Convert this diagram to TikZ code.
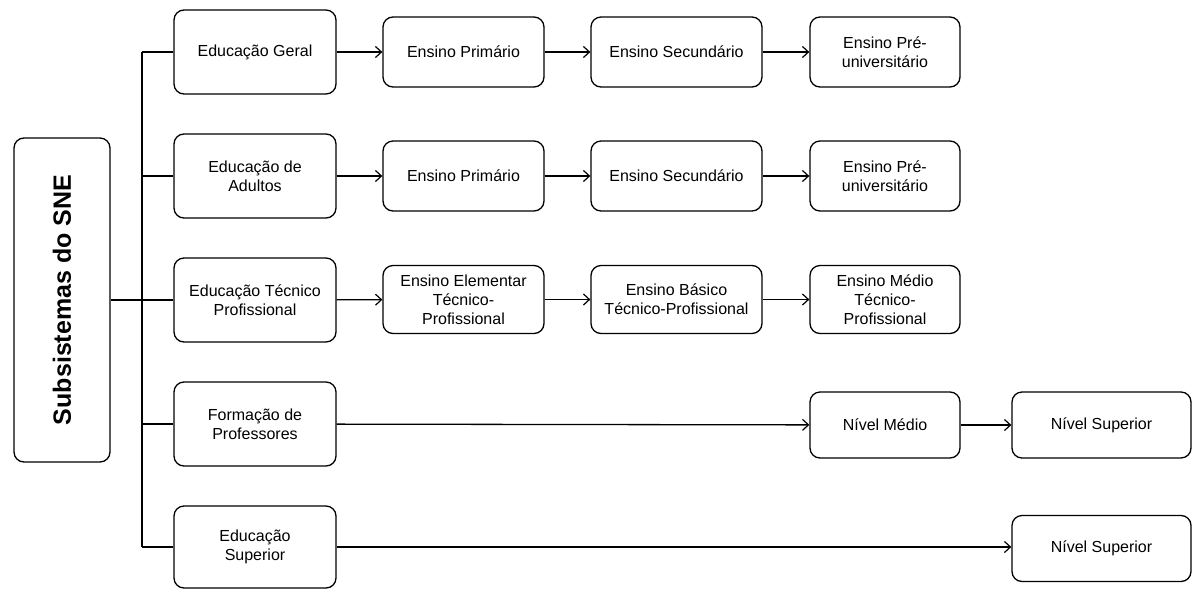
\documentclass[tikz,border=0pt]{standalone}
\usepackage{fontspec}
\setmainfont{Liberation Sans}
\usetikzlibrary{arrows.meta}
\begin{document}
\begin{tikzpicture}[x=1pt,y=-1pt,
  box/.style={draw, line width=1.3pt, rounded corners=10pt, align=center, inner sep=0pt,
    font=\fontsize{16}{19}\selectfont},
  conn/.style={line width=1.3pt},
  arr/.style={conn, -{Straight Barb[length=6pt,width=11pt,line width=1.2pt]}}]
\useasboundingbox (0,0) rectangle (1192,590);
% root
\node[box, minimum width=96pt, minimum height=324pt] (root) at (62,300)
  {\rotatebox{90}{\fontsize{25}{28}\selectfont\bfseries Subsistemas do SNE}};
% level 1
\node[box, minimum width=162pt, minimum height=84pt] (a1) at (255,52) {Educação Geral};
\node[box, minimum width=162pt, minimum height=84pt] (a2) at (255,176) {Educação de\\Adultos};
\node[box, minimum width=162pt, minimum height=84pt] (a3) at (255,300) {Educação Técnico\\Profissional};
\node[box, minimum width=162pt, minimum height=84pt] (a4) at (255,424) {Formação de\\Professores};
\node[box, minimum width=162pt, minimum height=82pt] (a5) at (255,547) {Educação\\Superior};
% level 2
\node[box, minimum width=161pt, minimum height=70pt] (b1) at (463.5,52) {Ensino Primário};
\node[box, minimum width=161pt, minimum height=70pt] (b2) at (463.5,176) {Ensino Primário};
\node[box, minimum width=161pt, minimum height=68pt] (b3) at (463.5,299.5) {Ensino Elementar\\Técnico-\\Profissional};
% level 3
\node[box, minimum width=171pt, minimum height=70pt] (c1) at (676.5,52) {Ensino Secundário};
\node[box, minimum width=171pt, minimum height=70pt] (c2) at (676.5,176) {Ensino Secundário};
\node[box, minimum width=171pt, minimum height=68pt] (c3) at (676.5,299.5) {Ensino Básico\\Técnico-Profissional};
% level 4
\node[box, minimum width=150pt, minimum height=70pt] (d1) at (885,52) {Ensino Pré-\\universitário};
\node[box, minimum width=150pt, minimum height=70pt] (d2) at (885,176) {Ensino Pré-\\universitário};
\node[box, minimum width=150pt, minimum height=68pt] (d3) at (885,299.5) {Ensino Médio\\Técnico-\\Profissional};
\node[box, minimum width=150pt, minimum height=66pt] (d4) at (885,425) {Nível Médio};
% level 5
\node[box, minimum width=179pt, minimum height=66pt] (e4) at (1101.5,425) {Nível Superior};
\node[box, minimum width=179pt, minimum height=66pt] (e5) at (1101.5,548.5) {Nível Superior};
% trunk
\coordinate (t1) at (142,52);
\coordinate (t5) at (142,547);
\draw[conn] (t1) -- (t5);
\draw[conn] (root.east) -- (a3.west);
\foreach \n in {a1,a2,a4,a5} \draw[conn] (\n.west) -- (\n.west -| t1);
% rows
\draw[arr] (a1) -- (b1); \draw[arr] (b1) -- (c1); \draw[arr] (c1) -- (d1);
\draw[arr] (a2) -- (b2); \draw[arr] (b2) -- (c2); \draw[arr] (c2) -- (d2);
\draw[arr] (a3) -- (b3); \draw[arr] (b3) -- (c3); \draw[arr] (c3) -- (d3);
\draw[arr] (a4) -- (d4); \draw[arr] (d4) -- (e4);
\draw[arr] (a5.east) -- (a5.east -| e5.west);
\end{tikzpicture}
\end{document}
